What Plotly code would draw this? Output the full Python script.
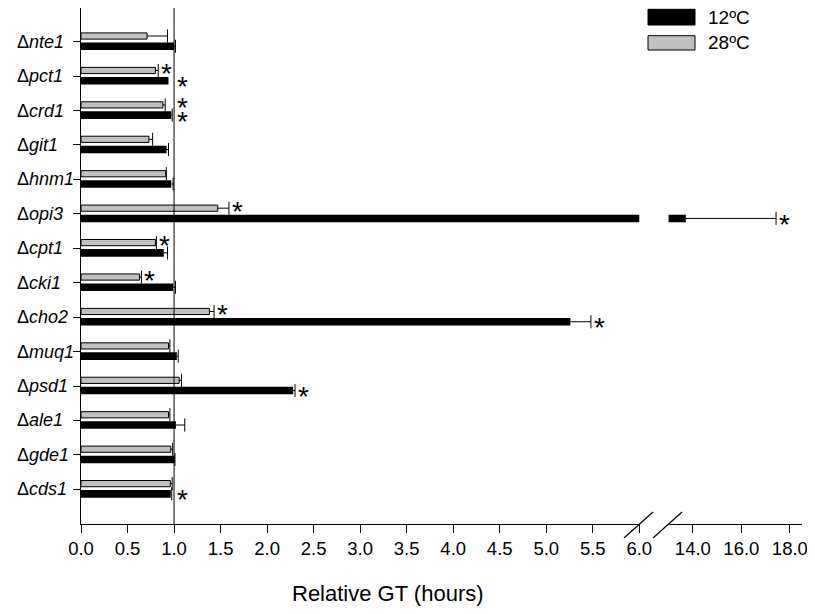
import plotly.graph_objects as go

# ---------------- data ----------------
genes = ["nte1", "pct1", "crd1", "git1", "hnm1", "opi3", "cpt1",
         "cki1", "cho2", "muq1", "psd1", "ale1", "gde1", "cds1"]
gt_12 = [1.00, 0.94, 0.97, 0.92, 0.97, 13.71, 0.89, 0.99, 5.26, 1.03, 2.28, 1.02, 1.005, 0.965]
err_12 = [0.015, 0.0, 0.01, 0.02, 0.02, 3.72, 0.04, 0.025, 0.22, 0.015, 0.02, 0.095, 0.005, 0.01]
gt_28 = [0.71, 0.80, 0.88, 0.73, 0.91, 1.47, 0.80, 0.63, 1.38, 0.94, 1.055, 0.94, 0.965, 0.96]
err_28 = [0.22, 0.03, 0.025, 0.04, 0.007, 0.12, 0.01, 0.02, 0.05, 0.015, 0.025, 0.015, 0.02, 0.02]
sig_12 = [False, True, True, False, False, True, False, False, True, False, True, False, False, True]
sig_28 = [False, True, True, False, False, True, True, True, True, False, False, False, False, False]
series_names = ["12ºC", "28ºC"]
x1_ticks = [0.0, 0.5, 1.0, 1.5, 2.0, 2.5, 3.0, 3.5, 4.0, 4.5, 5.0, 5.5, 6.0]
x2_ticks = [14.0, 16.0, 18.0]
x_title = "Relative GT (hours)"
ref_value = 1.0

# ---------------- layout geometry ----------------
# the page body adds an 8px offset, so the figure is 8px smaller than the window
OFF = 8
W, H = 815 - OFF, 614 - OFF
# plot area in window (screen) pixels
L, R, T, B = 81, 802, 8, 524
def px2x(p):
    return (p - L) / (R - L)
def py2y(p):
    return (B - p) / (B - T)

pos = list(range(len(genes)))
FONT = "Liberation Sans, Arial, sans-serif"

# bar geometry (category units)
g_off, g_w = -0.255, 0.18
k_off, k_w = 0.023, 0.22
g_c = g_off + g_w / 2
k_c = k_off + k_w / 2
cap = 0.19

def err_lines(vals, errs, coff):
    xs, ys = [], []
    for i, (v, e) in enumerate(zip(vals, errs)):
        if e <= 0:
            continue
        y = i + coff
        xs += [v, v + e, None, v + e, v + e, None]
        ys += [y, y, None, y - cap, y + cap, None]
    return xs, ys

fig = go.Figure()
for xa in ["x", "x2"]:
    fig.add_trace(go.Bar(orientation="h", x=gt_28, y=pos, width=g_w, offset=g_off,
                         marker=dict(color="#c0c0c0", line=dict(color="black", width=1)),
                         name=series_names[1], showlegend=False, xaxis=xa, yaxis="y"))
    fig.add_trace(go.Bar(orientation="h", x=gt_12, y=pos, width=k_w, offset=k_off,
                         marker=dict(color="black", line=dict(color="black", width=0)),
                         name=series_names[0], showlegend=False, xaxis=xa, yaxis="y"))
    for vals, errs, coff in [(gt_28, err_28, g_c), (gt_12, err_12, k_c)]:
        ex, ey = err_lines(vals, errs, coff)
        fig.add_trace(go.Scatter(x=ex, y=ey, mode="lines", line=dict(color="black", width=1),
                                 showlegend=False, hoverinfo="skip", xaxis=xa, yaxis="y"))

annotations = []
# significance stars (pushed past the reference line when they would touch it)
for vals, errs, sigs, coff, ysh in [(gt_28, err_28, sig_28, g_c, -3), (gt_12, err_12, sig_12, k_c, -6)]:
    for i, (v, e, s) in enumerate(zip(vals, errs, sigs)):
        if not s:
            continue
        xv = v + e
        if ref_value - 0.12 < xv < ref_value:
            xv = ref_value
        annotations.append(dict(x=xv, y=i + coff, xref="x" if xv <= 6 else "x2", yref="y",
                                text="*", showarrow=False, xanchor="left", yanchor="middle",
                                xshift=1, yshift=ysh,
                                font=dict(family=FONT, size=28, color="black")))
# category labels (left aligned)
for i, g in enumerate(genes):
    annotations.append(dict(x=px2x(15), y=i, xref="paper", yref="y",
                            text="Δ<i>" + g + "</i>", showarrow=False,
                            xanchor="left", yanchor="middle",
                            font=dict(family=FONT, size=18, color="black")))
# x title
annotations.append(dict(x=px2x(388), y=py2y(593), xref="paper", yref="paper",
                        text=x_title, showarrow=False, xanchor="center", yanchor="middle",
                        font=dict(family=FONT, size=22, color="black")))
# legend
shapes = []
leg = [(series_names[0], "black", 9.3, 25), (series_names[1], "#c0c0c0", 35.7, 50)]
for name, col, y0, y1 in leg:
    shapes.append(dict(type="rect", xref="paper", yref="paper",
                       x0=px2x(648), x1=px2x(695), y0=py2y(y1), y1=py2y(y0),
                       fillcolor=col, line=dict(color="black", width=1)))
    annotations.append(dict(x=px2x(706), y=py2y((y0 + y1) / 2), xref="paper", yref="paper",
                            text=name, showarrow=False, xanchor="left", yanchor="middle",
                            font=dict(family=FONT, size=19, color="black")))

# reference line at 1.0
shapes.append(dict(type="line", xref="x", yref="paper", x0=ref_value, x1=ref_value, y0=0, y1=1,
                   line=dict(color="black", width=1)))
# axis break marks
for (xa0, ya0, xa1, ya1) in [(624, 538, 653, 512), (653, 538, 682, 512)]:
    shapes.append(dict(type="line", xref="paper", yref="paper",
                       x0=px2x(xa0), y0=py2y(ya0), x1=px2x(xa1), y1=py2y(ya1),
                       line=dict(color="black", width=1.2)))

axis_common = dict(showgrid=False, zeroline=False, showline=True, linecolor="black",
                   linewidth=1, ticks="outside", ticklen=8, tickwidth=1, tickcolor="black",
                   tickfont=dict(family=FONT, size=18.5, color="black"))

cat_px = (489.3 - 41.7) / 13.0
y_top = 0 - (41.7 - T) / cat_px
y_bot = 13 + (B - 489.3) / cat_px

fig.update_layout(
    width=W, height=H,
    margin=dict(l=L - OFF, r=(W + OFF) - R, t=T - OFF, b=(H + OFF) - B, pad=0),
    paper_bgcolor="white", plot_bgcolor="white",
    barmode="overlay", showlegend=False,
    xaxis=dict(domain=[0, px2x(639.3)], range=[0, 6.0], tickvals=x1_ticks,
               ticktext=["%.1f" % v for v in x1_ticks], anchor="y", **axis_common),
    xaxis2=dict(domain=[px2x(668.6), 1], range=[13.0, 18.5], tickvals=x2_ticks,
                ticktext=["%.1f" % v for v in x2_ticks], anchor="y", **axis_common),
    yaxis=dict(range=[y_bot, y_top], tickvals=pos, showticklabels=False,
               showgrid=False, zeroline=False, showline=True, linecolor="black",
               linewidth=1, ticks="outside", ticklen=7, tickwidth=1, tickcolor="black",
               anchor="x"),
    annotations=annotations, shapes=shapes,
)

fig.write_html("out.html")
